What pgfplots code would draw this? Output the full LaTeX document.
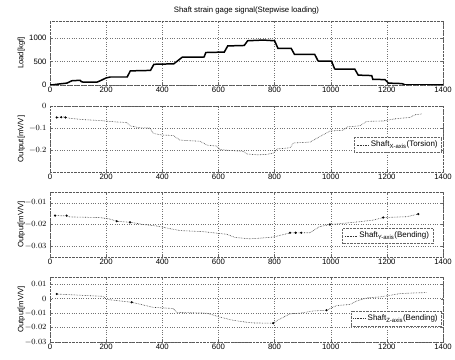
\documentclass[border=0pt]{standalone}
\usepackage{pgfplots}
\pgfplotsset{compat=1.18}
\usepackage{fontspec}
\setmainfont{Liberation Sans}
\pgfplotsset{
  panel/.style={
    scale only axis, width=393bp, anchor=south west,
    xmin=0, xmax=1400, xtick={0,200,...,1400},
    grid=major, major grid style={black!55, dotted},
    axis line style={black!65, densely dotted},
    tick style={black!60}, major tick length=2pt,
    every tick label/.append style={font=\fontsize{7.8}{9}\selectfont},
    /pgf/number format/assume math mode=true,
    /pgf/number format/set thousands separator={},
    yticklabel style={/pgf/number format/fixed},
    scaled y ticks=false,
    ylabel style={font=\fontsize{7.8}{9}\selectfont, at={(axis description cs:-0.073,0.5)}, anchor=center},
    xticklabel style={yshift=1pt},
    legend style={font=\fontsize{8}{9}\selectfont, draw=black!60, densely dotted, fill=white, inner sep=2pt, row sep=0pt},
    legend image code/.code={\draw[#1] (0bp,0bp) -- (12bp,0bp);},
    legend cell align=left,
  },
  sig/.style={black!80, densely dotted, line width=0.6pt, mark=none},
  dots/.style={only marks, mark=*, mark size=0.9pt, black},
}
\begin{document}
\begin{tikzpicture}[x=1bp,y=1bp]
\useasboundingbox (0,0) rectangle (455,359);
% Panel 1
\begin{axis}[panel, at={(50bp,274bp)}, height=64bp, ymin=0, ymax=1360, ytick={0,500,1000},
  ylabel={Load[kgf]},
  title={Shaft strain gage signal(Stepwise loading)},
  title style={font=\fontsize{7.8}{9}\selectfont, yshift=-3pt}]
\addplot[black, line width=1.5pt] coordinates {
(0,0) (12,5) (30,20) (60,40) (78,90) (107,100) (112,70) (119,60) (167,60) (179,90) (200,150) (215,170) (275,170)
(286,300) (358,310) (370,440) (441,450) (471,590) (549,595) (555,690) (621,700) (633,830) (692,840)
(704,940) (760,955) (800,940) (812,780) (859,780) (871,650) (943,650) (955,510) (1003,505)
(1014,340) (1086,335) (1098,210) (1146,200) (1150,120) (1193,115) (1206,40) (1253,30) (1265,5) (1400,0)};
\end{axis}
% Panel 2
\begin{axis}[panel, at={(50bp,187bp)}, height=66bp, ymin=-0.3, ymax=0, ytick={-0.2,-0.1,0},
  yticklabels={$-0.2$,$-0.1$,$0$},
  ylabel={Output[mV/V]},
  legend style={at={(axis description cs:0.997,0.53)}, anchor=north east}]
\addplot[sig] coordinates {
(24,-0.052) (50,-0.050) (71,-0.056) (120,-0.062) (178,-0.066) (230,-0.072) (273,-0.075) (285,-0.090)
(320,-0.099) (356,-0.100) (368,-0.125) (400,-0.132) (439,-0.134) (463,-0.155) (500,-0.158) (534,-0.160)
(560,-0.178) (594,-0.182) (606,-0.198) (650,-0.203) (689,-0.206) (700,-0.218) (740,-0.222) (772,-0.220)
(795,-0.214) (810,-0.195) (855,-0.190) (867,-0.168) (900,-0.166) (926,-0.164) (960,-0.140) (997,-0.114)
(1045,-0.110) (1060,-0.095) (1104,-0.090) (1128,-0.070) (1187,-0.068) (1230,-0.058) (1282,-0.052)
(1300,-0.040) (1325,-0.036)};
\addlegendentry{Shaft\textsubscript{X-axis}(Torsion)}
\addplot[dots, forget plot] coordinates {(24,-0.052) (40,-0.051) (55,-0.052)};
\end{axis}
% Panel 3
\begin{axis}[panel, at={(50bp,102bp)}, height=65bp, ymin=-0.035, ymax=-0.005, ytick={-0.03,-0.02,-0.01},
  yticklabels={$-0.03$,$-0.02$,$-0.01$},
  ylabel={Output[mV/V]},
  legend style={at={(axis description cs:0.975,0.446)}, anchor=north east}]
\addplot[sig] coordinates {
(18,-0.0159) (59,-0.0160) (71,-0.0165) (178,-0.0168) (214,-0.0175) (238,-0.0185) (285,-0.0190) (297,-0.0192)
(332,-0.0200) (380,-0.0207) (463,-0.0228) (546,-0.0233) (629,-0.0245) (660,-0.0260) (712,-0.0266)
(760,-0.0262) (795,-0.0258) (820,-0.0250) (855,-0.0239) (926,-0.0238) (960,-0.0210) (997,-0.0200)
(1033,-0.0196) (1104,-0.0187) (1150,-0.0180) (1187,-0.0168) (1271,-0.0164) (1312,-0.0152)};
\addlegendentry{Shaft\textsubscript{Y-axis}(Bending)}
\addplot[dots, forget plot] coordinates {(18,-0.0159) (59,-0.0159) (238,-0.0185) (285,-0.0190) (855,-0.0238) (875,-0.0238) (895,-0.0238) (997,-0.0200) (1187,-0.0168) (1312,-0.0152)};
\end{axis}
% Panel 4
\begin{axis}[panel, at={(50bp,17bp)}, height=65bp, ymin=-0.03, ymax=0.015, ytick={-0.03,-0.02,-0.01,0,0.01},
  yticklabels={$-0.03$,$-0.02$,$-0.01$,$0$,$0.01$},
  ylabel={Output[mV/V]},
  legend style={at={(axis description cs:0.997,0.48)}, anchor=north east}]
\addplot[sig] coordinates {
(24,0.0032) (107,0.0024) (190,0.0016) (202,-0.0005) (291,-0.0025) (368,-0.0060) (439,-0.0068) (451,-0.0095)
(558,-0.0100) (606,-0.0128) (653,-0.0150) (700,-0.0163) (724,-0.0168) (795,-0.0170) (810,-0.0150)
(855,-0.0105) (890,-0.0100) (938,-0.0085) (985,-0.0080) (1021,-0.0048) (1069,-0.0040) (1090,-0.0018)
(1128,0.0005) (1175,0.0012) (1247,0.0035) (1300,0.0040) (1342,0.0042)};
\addlegendentry{Shaft\textsubscript{Z-axis}(Bending)}
\addplot[dots, forget plot] coordinates {(24,0.0032) (291,-0.0025) (795,-0.0170) (985,-0.0080)};
\end{axis}
\end{tikzpicture}
\end{document}
